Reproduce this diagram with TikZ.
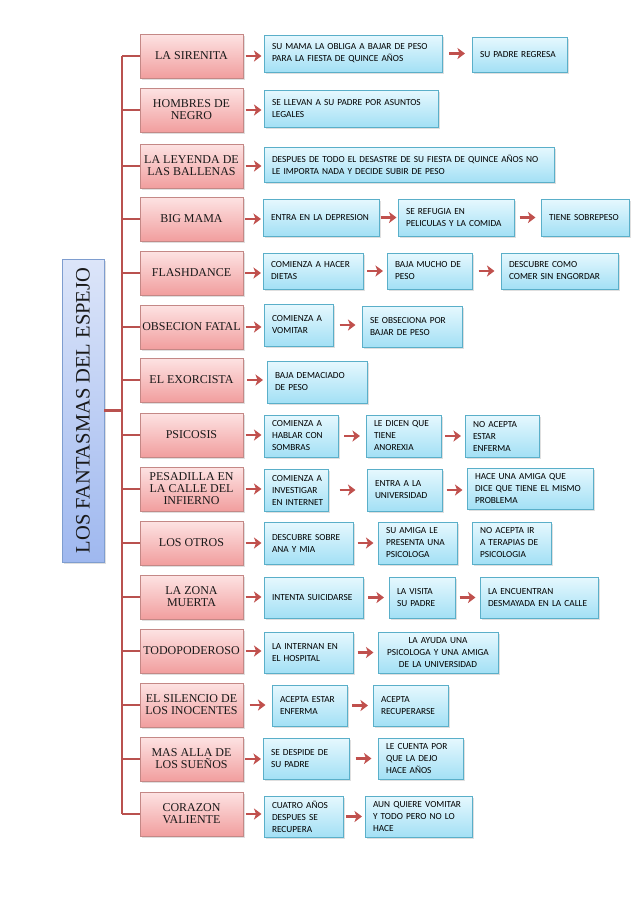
\documentclass[tikz,border=0pt]{standalone}
\usepackage{fontspec}
\setmainfont{Liberation Serif}
\newfontfamily\calfont{Carlito}
\usetikzlibrary{arrows.meta,shadows,calc}
\definecolor{redtop}{HTML}{FDE3E3}
\definecolor{redbot}{HTML}{F19E9E}
\definecolor{redline}{HTML}{C48886}
\definecolor{bluetop}{HTML}{E6F8FE}
\definecolor{bluebot}{HTML}{A3E0F5}
\definecolor{blueline}{HTML}{5AAFC9}
\definecolor{ttop}{HTML}{DCE5F9}
\definecolor{tbot}{HTML}{9FB8EF}
\definecolor{tline}{HTML}{7E9DCF}
\definecolor{arrcol}{HTML}{C0504D}
\definecolor{trunkcol}{HTML}{B9514F}
\tikzset{
  redbox/.style={draw=redline, line width=0.8pt, top color=redtop, bottom color=redbot,
    minimum width=103pt, minimum height=44pt, inner sep=1pt, align=center,
    font=\fontsize{12}{12}\selectfont, text=black!90,
    drop shadow={shadow xshift=1.5pt, shadow yshift=-1.5pt, opacity=0.25}},
  bluebox/.style={draw=blueline, line width=0.8pt, top color=bluetop, bottom color=bluebot,
    inner xsep=8pt, inner ysep=1pt, align=left,
    font=\calfont\fontsize{9.3}{12}\selectfont, text=black,
    drop shadow={shadow xshift=1.5pt, shadow yshift=-1.5pt, opacity=0.25}},
  titlebox/.style={draw=tline, line width=0.8pt, top color=ttop, bottom color=tbot,
    rotate=90, minimum width=303pt, minimum height=42pt, inner sep=1pt,
    font=\fontsize{20.5}{20.5}\selectfont, text=black!90,
    drop shadow={shadow xshift=1.5pt, shadow yshift=-1.5pt, opacity=0.25}},
  trunk/.style={draw=trunkcol, line width=2.8pt},
  arr/.style={draw=arrcol, line width=2.8pt, -{Stealth[length=7.5pt,width=11pt,inset=2pt]}},
}
\newcommand\bx[7][]{%
  \pgfmathsetmacro\bw{#5-#3}\pgfmathsetmacro\bh{#6-#4}\pgfmathsetmacro\tw{#5-#3-16}%
  \node[bluebox, minimum width=\bw pt, minimum height=\bh pt, text width=\tw pt, #1] (#2) at ({(#3+#5)/2},{(#4+#6)/2}) {#7};}
\newcommand\arr[2]{\draw[arr] ($(#1.east)!0.5!(#1.east -| #2.west)$) ++(-8pt,0) -- ++(16pt,0);}
\begin{document}
\begin{tikzpicture}[x=1pt,y=-1pt]
\useasboundingbox (0,0) rectangle (638,903);
\fill[white] (0,0) rectangle (638,903);
% title
\node[titlebox] (title) at (83,410.5) {LOS FANTASMAS DEL ESPEJO};
\coordinate (tr) at (122,410);
% red boxes
\node[redbox] (r1) at (191.5,56) {LA SIRENITA};
\node[redbox] (r2) at (191.5,110) {HOMBRES DE\\NEGRO};
\node[redbox] (r3) at (191.5,166) {LA LEYENDA DE\\LAS BALLENAS};
\node[redbox] (r4) at (191.5,219) {BIG MAMA};
\node[redbox] (r5) at (191.5,273) {FLASHDANCE};
\node[redbox] (r6) at (191.5,327) {OBSECION FATAL};
\node[redbox] (r7) at (191.5,380) {EL EXORCISTA};
\node[redbox] (r8) at (191.5,435) {PSICOSIS};
\node[redbox] (r9) at (191.5,489) {PESADILLA EN\\LA CALLE DEL\\INFIERNO};
\node[redbox] (r10) at (191.5,543) {LOS OTROS};
\node[redbox] (r11) at (191.5,597) {LA ZONA\\MUERTA};
\node[redbox] (r12) at (191.5,651) {TODOPODEROSO};
\node[redbox] (r13) at (191.5,705) {EL SILENCIO DE\\LOS INOCENTES};
\node[redbox] (r14) at (191.5,759) {MAS ALLA DE\\LOS SUEÑOS};
\node[redbox] (r15) at (191.5,814) {CORAZON\\VALIENTE};
% trunk
\draw[trunk] (title.south) -- (title.south -| tr);
\draw[trunk] (r1.west -| tr) -- (r15.west -| tr);
\foreach \i in {1,...,15}{\draw[trunk] (r\i.west) -- (r\i.west -| tr);}
% blue boxes
\bx{b11}{264}{35}{442}{72}{SU MAMA LA OBLIGA A BAJAR DE PESO\\PARA LA FIESTA DE QUINCE AÑOS}
\bx{b12}{472}{37}{567}{72}{SU PADRE REGRESA}
\bx{b21}{264}{90}{438}{127}{SE LLEVAN A SU PADRE POR ASUNTOS\\LEGALES}
\bx{b31}{264}{147}{554}{182}{\mbox{DESPUES DE TODO EL DESASTRE DE SU FIESTA DE QUINCE AÑOS NO}\\LE IMPORTA NADA Y DECIDE SUBIR DE PESO}
\bx{b41}{263}{199}{379}{236}{ENTRA EN LA DEPRESION}
\bx{b42}{398}{199}{514}{236}{SE REFUGIA EN\\PELICULAS Y LA COMIDA}
\bx{b43}{541}{199}{629}{236}{TIENE SOBREPESO}
\bx{b51}{263}{253}{363}{289}{COMIENZA A HACER\\DIETAS}
\bx{b52}{387}{253}{472}{289}{BAJA MUCHO DE\\PESO}
\bx{b53}{501}{253}{618}{289}{DESCUBRE COMO\\COMER SIN ENGORDAR}
\bx{b61}{264}{304}{333}{346}{COMIENZA A\\VOMITAR}
\bx{b62}{362}{306}{462}{347}{SE OBSECIONA POR\\BAJAR DE PESO}
\bx{b71}{267}{361}{367}{403}{BAJA DEMACIADO\\DE PESO}
\bx{b81}{264}{415}{338}{457}{\mbox{COMIENZA A}\\HABLAR CON\\SOMBRAS}
\bx{b82}{366}{415}{441}{457}{LE DICEN QUE\\TIENE\\ANOREXIA}
\bx{b83}{465}{415}{539}{457}{NO ACEPTA\\ESTAR\\ENFERMA}
\bx{b91}{264}{469}{328}{511}{\mbox{COMIENZA A}\\\mbox{INVESTIGAR}\\\mbox{EN INTERNET}}
\bx{b92}{367}{469}{442}{511}{ENTRA A LA\\UNIVERSIDAD}
\bx{b93}{467}{468}{593}{509}{HACE UNA AMIGA QUE\\\mbox{DICE QUE TIENE EL MISMO}\\PROBLEMA}
\bx{b101}{264}{522}{353}{564}{DESCUBRE SOBRE\\ANA Y MIA}
\bx{b102}{378}{522}{457}{564}{SU AMIGA LE\\PRESENTA UNA\\PSICOLOGA}
\bx{b103}{472}{522}{551}{564}{NO ACEPTA IR\\A TERAPIAS DE\\PSICOLOGIA}
\bx{b111}{264}{577}{363}{618}{INTENTA SUICIDARSE}
\bx{b112}{389}{577}{455}{618}{LA VISITA\\SU PADRE}
\bx{b113}{480}{577}{598}{618}{LA ENCUENTRAN\\\mbox{DESMAYADA EN LA CALLE}}
\bx{b121}{264}{632}{353}{673}{LA INTERNAN EN\\EL HOSPITAL}
\bx[align=center]{b122}{378}{632}{498}{673}{LA AYUDA UNA\\\mbox{PSICOLOGA Y UNA AMIGA}\\DE LA UNIVERSIDAD}
\bx{b131}{272}{685}{347}{726}{ACEPTA ESTAR\\ENFERMA}
\bx{b132}{373}{685}{448}{726}{ACEPTA\\RECUPERARSE}
\bx{b141}{263}{738}{349}{779}{SE DESPIDE DE\\SU PADRE}
\bx{b142}{378}{738}{463}{779}{LE CUENTA POR\\QUE LA DEJO\\HACE AÑOS}
\bx{b151}{264}{796}{343}{837}{CUATRO AÑOS\\DESPUES SE\\RECUPERA}
\bx{b152}{365}{796}{472}{837}{\mbox{AUN QUIERE VOMITAR}\\Y TODO PERO NO LO\\HACE}
% arrows
\foreach \i in {1,...,15}{\arr{r\i}{b\i1}}
\arr{b11}{b12}
\arr{b41}{b42}\arr{b42}{b43}
\arr{b51}{b52}\arr{b52}{b53}
\arr{b61}{b62}
\arr{b81}{b82}\arr{b82}{b83}
\arr{b91}{b92}\arr{b92}{b93}
\arr{b101}{b102}
\arr{b111}{b112}\arr{b112}{b113}
\arr{b121}{b122}
\arr{b131}{b132}
\arr{b141}{b142}
\arr{b151}{b152}
\end{tikzpicture}
\end{document}
